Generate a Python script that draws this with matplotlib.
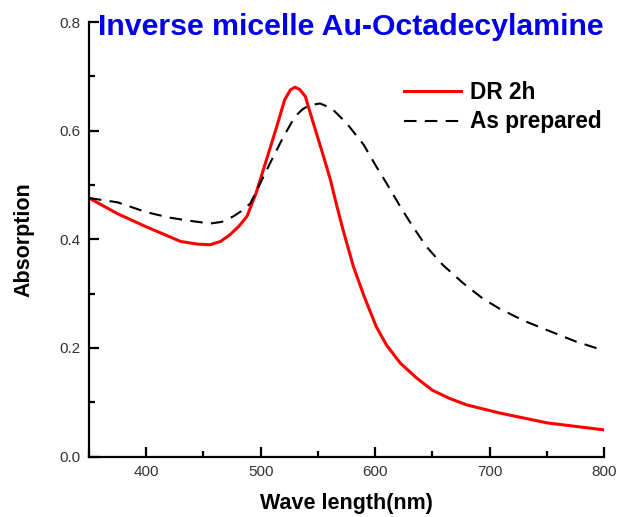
import matplotlib
matplotlib.use('Agg')
import matplotlib.pyplot as plt
from matplotlib.ticker import MultipleLocator

plt.rcParams['font.family'] = ['Liberation Sans', 'DejaVu Sans']

# DR 2h spectrum (red)
dr_wl = [350, 375, 400, 430, 445, 456, 465, 473, 481, 488, 496, 505, 514, 521,
         526, 530, 534, 539, 546, 555, 561, 566, 572, 581, 590, 601, 610, 622,
         636, 650, 665, 680, 709, 750, 800]
dr_abs = [0.476, 0.447, 0.423, 0.396, 0.391, 0.390, 0.396, 0.408, 0.424, 0.442,
          0.485, 0.546, 0.607, 0.657, 0.675, 0.680, 0.676, 0.663, 0.614, 0.552,
          0.509, 0.466, 0.417, 0.350, 0.297, 0.239, 0.205, 0.172, 0.145, 0.122,
          0.107, 0.095, 0.080, 0.062, 0.049]

# as prepared spectrum (black dashed)
ap_wl = [350, 375, 400, 420, 438, 456, 466, 476, 484, 491, 501, 511, 520, 530,
         537, 543, 552, 562, 575, 590, 601, 610, 622, 633, 645, 659, 677, 694,
         708, 730, 750, 775, 800]
ap_abs = [0.476, 0.468, 0.450, 0.440, 0.434, 0.429, 0.432, 0.442, 0.453, 0.466,
          0.509, 0.552, 0.589, 0.626, 0.640, 0.647, 0.650, 0.641, 0.614, 0.574,
          0.534, 0.503, 0.460, 0.423, 0.386, 0.353, 0.319, 0.291, 0.273, 0.250,
          0.233, 0.212, 0.195]

fig = plt.figure(figsize=(6.17, 5.17), dpi=100)
ax = fig.add_axes([0.1442, 0.117, 0.8348, 0.8404])

ax.plot(dr_wl, dr_abs, color='red', lw=2.2, label='DR 2h')
ax.plot(ap_wl, ap_abs, color='black', lw=1.5, ls=(0, (6, 4)), label='As prepared')

ax.set_xlim(350, 800)
ax.set_ylim(0, 0.8)
ax.xaxis.set_major_locator(MultipleLocator(100))
ax.xaxis.set_minor_locator(MultipleLocator(50))
ax.yaxis.set_major_locator(MultipleLocator(0.2))
ax.yaxis.set_minor_locator(MultipleLocator(0.1))
ax.yaxis.set_major_formatter(plt.FuncFormatter(lambda v, p: f'{v:.1f}'))

for s in ['top', 'right']:
    ax.spines[s].set_visible(False)
for s in ['left', 'bottom']:
    ax.spines[s].set_linewidth(1.6)
ax.tick_params(which='both', direction='in', width=1.6, labelsize=11, labelcolor='#333333')
ax.tick_params(which='major', length=7, pad=6)
ax.tick_params(which='minor', length=4)

ax.set_xlabel('Wave length(nm)', fontsize=15.5, fontweight='bold', labelpad=10)
ax.set_ylabel('Absorption', fontsize=15.5, fontweight='bold', labelpad=18)

fig.text(98 / 617, 1 - 27 / 517, 'Inverse micelle Au-Octadecylamine', color='#0000ee',
         fontsize=21.8, fontweight='bold', va='center', ha='left')

ax.legend(loc='upper right', bbox_to_anchor=(1.035, 0.912), frameon=False,
          prop={'size': 16.3, 'weight': 'bold'}, handlelength=2.5, handletextpad=0.4,
          labelspacing=0.3)

plt.savefig('out.png', dpi=100)
